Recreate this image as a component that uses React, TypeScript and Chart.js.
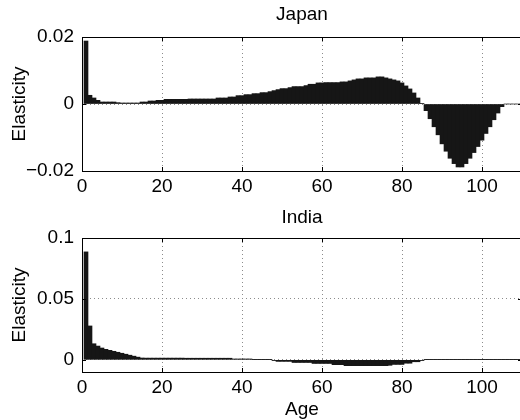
import React, { useEffect, useRef } from "react";
import { Chart, registerables } from "chart.js";

Chart.register(...registerables);

const FONT = "'Liberation Sans', Arial, Helvetica, sans-serif";

const AGES = [
  1, 2, 3, 4, 5, 6, 7, 8, 9, 10,
  11, 12, 13, 14, 15, 16, 17, 18, 19, 20,
  21, 22, 23, 24, 25, 26, 27, 28, 29, 30,
  31, 32, 33, 34, 35, 36, 37, 38, 39, 40,
  41, 42, 43, 44, 45, 46, 47, 48, 49, 50,
  51, 52, 53, 54, 55, 56, 57, 58, 59, 60,
  61, 62, 63, 64, 65, 66, 67, 68, 69, 70,
  71, 72, 73, 74, 75, 76, 77, 78, 79, 80,
  81, 82, 83, 84, 85, 86, 87, 88, 89, 90,
  91, 92, 93, 94, 95, 96, 97, 98, 99, 100,
  101, 102, 103, 104, 105, 106, 107, 108, 109, 110,
];

const JAPAN = [
  0.0188, 0.0026, 0.0018, 0.0011, 0.0006, 0.0006, 0.0006, 0.0006, 0.0004, 0.0003,
  0.0003, 0.0003, 0.0003, 0.0003, 0.0006, 0.0006, 0.0009, 0.0009, 0.0011, 0.0011,
  0.0014, 0.0014, 0.0014, 0.0014, 0.0014, 0.0014, 0.0015, 0.0015, 0.0015, 0.0015,
  0.0015, 0.0015, 0.0015, 0.0018, 0.0018, 0.0018, 0.0021, 0.0021, 0.0025, 0.0025,
  0.0028, 0.0028, 0.0031, 0.0031, 0.0034, 0.0034, 0.0037, 0.004, 0.0043, 0.0046,
  0.0046, 0.0049, 0.0052, 0.0052, 0.0052, 0.0055, 0.0059, 0.0059, 0.0063, 0.0063,
  0.0064, 0.0064, 0.0064, 0.0064, 0.0066, 0.0066, 0.0069, 0.0072, 0.0075, 0.0075,
  0.0078, 0.0078, 0.0078, 0.0081, 0.0081, 0.0078, 0.0075, 0.0072, 0.0069, 0.0063,
  0.0054, 0.0045, 0.0033, 0.0018, 0.0001, -0.002, -0.0044, -0.0068, -0.0092, -0.0119,
  -0.0141, -0.0162, -0.0178, -0.0188, -0.0188, -0.0178, -0.0162, -0.0145, -0.0127, -0.0108,
  -0.0088, -0.0068, -0.0047, -0.0027, -0.0008, 0, 0, 0, 0, 0,
];

const INDIA = [
  0.0886, 0.0278, 0.0132, 0.0113, 0.0097, 0.0086, 0.0078, 0.007, 0.0062, 0.0054,
  0.0046, 0.0038, 0.003, 0.0022, 0.0015, 0.0014, 0.0014, 0.0014, 0.0014, 0.0014,
  0.0014, 0.0014, 0.0014, 0.0014, 0.0014, 0.0013, 0.0013, 0.0013, 0.0013, 0.0013,
  0.0013, 0.0013, 0.0013, 0.0013, 0.0013, 0.0013, 0.0013, 0.0007, 0.0007, 0.0007,
  0.0007, 0.0007, 0.0002, 0.0002, 0.0002, 0.0002, 0.0002, -0.0006, -0.0013, -0.0013,
  -0.0013, -0.0013, -0.0022, -0.0022, -0.0022, -0.0022, -0.0022, -0.003, -0.003, -0.003,
  -0.003, -0.003, -0.004, -0.004, -0.004, -0.0048, -0.0048, -0.0048, -0.0048, -0.0048,
  -0.0048, -0.0048, -0.0048, -0.0048, -0.0048, -0.0048, -0.0045, -0.0038, -0.0038, -0.0038,
  -0.0028, -0.0028, -0.0016, -0.0016, -0.0006, 0.0002, 0.0002, 0.0002, 0.0002, 0.0002,
  0.0002, 0.0002, 0.0002, 0.0002, 0.0002, 0.0002, 0.0002, 0.0002, 0.0002, 0.0002,
  0.0002, 0.0002, 0.0002, 0.0002, 0.0002, 0.0002, 0.0002, 0.0002, 0.0002, 0.0002,
];

const X_TICKS = [0, 20, 40, 60, 80, 100];
const JAPAN_Y_TICKS = [-0.02, 0, 0.02];
const JAPAN_Y_LABELS = ["\u22120.02", "0", "0.02"];
const INDIA_Y_TICKS = [0, 0.05, 0.1];
const INDIA_Y_LABELS = ["0", "0.05", "0.1"];

const BAR_COLOR = "#161616";
const GRID_COLOR = "#8c8c8c";

type PanelCfg = {
  title: string;
  xLabel: string;
  values: number[];
  yTicks: number[];
  yLabels: string[];
  yMin: number;
  yMax: number;
  topPad: number;
  xAxisHeight: number;
  titleGap: number;
};

function framePlugin(cfg: PanelCfg) {
  return {
    id: "matlabFrame",
    afterDraw(chart: any) {
      const { ctx, chartArea: a, scales } = chart;
      const xs = scales.x;
      const ys = scales.y;
      ctx.save();
      ctx.strokeStyle = "#000";
      ctx.lineWidth = 1;
      ctx.setLineDash([]);
      ctx.strokeRect(
        Math.round(a.left) + 0.5,
        Math.round(a.top) + 0.5,
        Math.round(a.right - a.left),
        Math.round(a.bottom - a.top)
      );
      ctx.beginPath();
      for (const v of X_TICKS) {
        const px = Math.round(xs.getPixelForValue(v)) + 0.5;
        ctx.moveTo(px, a.bottom);
        ctx.lineTo(px, a.bottom - 4);
        ctx.moveTo(px, a.top);
        ctx.lineTo(px, a.top + 4);
      }
      for (const v of cfg.yTicks) {
        const py = Math.round(ys.getPixelForValue(v)) + 0.5;
        ctx.moveTo(a.left, py);
        ctx.lineTo(a.left + 4, py);
        ctx.moveTo(a.right, py);
        ctx.lineTo(a.right - 4, py);
      }
      ctx.stroke();

      ctx.fillStyle = "#000";
      ctx.font = `19px ${FONT}`;
      ctx.textAlign = "center";
      ctx.textBaseline = "middle";
      const cx = (a.left + a.right) / 2;
      ctx.fillText(cfg.title, cx, a.top - cfg.titleGap);
      if (cfg.xLabel) ctx.fillText(cfg.xLabel, cx, a.bottom + 38);
      ctx.translate(20, (a.top + a.bottom) / 2);
      ctx.rotate(-Math.PI / 2);
      ctx.fillText("Elasticity", 0, 0);
      ctx.restore();
    },
  };
}

function buildChart(canvas: HTMLCanvasElement, cfg: PanelCfg) {
  return new Chart(canvas, {
    type: "bar",
    data: {
      datasets: [
        {
          data: AGES.map((a, i) => ({ x: a, y: cfg.values[i] })),
          backgroundColor: BAR_COLOR,
          borderWidth: 0,
          barPercentage: 1,
          categoryPercentage: 1,
        } as any,
      ],
    },
    options: {
      animation: false,
      responsive: false,
      devicePixelRatio: 1,
      layout: { padding: { left: 0, top: cfg.topPad, right: 82, bottom: 0 } },
      plugins: {
        legend: { display: false },
        title: { display: false },
        tooltip: { enabled: false },
      },
      scales: {
        x: {
          type: "linear",
          min: 0,
          max: 110,
          offset: false,
          afterBuildTicks: (s: any) => {
            s.ticks = X_TICKS.map((v) => ({ value: v }));
          },
          afterFit: (s: any) => {
            s.height = cfg.xAxisHeight;
          },
          grid: { color: GRID_COLOR, drawTicks: false, lineWidth: 1, offset: false },
          border: { display: false, dash: [1, 3] },
          ticks: {
            padding: 4,
            color: "#000",
            maxRotation: 0,
            autoSkip: false,
            font: { family: FONT, size: 19 },
            callback: (v: any) => String(v),
          },
        },
        y: {
          type: "linear",
          min: cfg.yMin,
          max: cfg.yMax,
          afterBuildTicks: (s: any) => {
            s.ticks = cfg.yTicks.map((v) => ({ value: v }));
          },
          afterFit: (s: any) => {
            s.width = 82;
          },
          grid: { color: GRID_COLOR, drawTicks: false, lineWidth: 1 },
          border: { display: false, dash: [1, 3] },
          ticks: {
            padding: 8,
            color: "#000",
            font: { family: FONT, size: 19 },
            callback: (v: any) => {
              const idx = cfg.yTicks.findIndex((t) => Math.abs(t - Number(v)) < 1e-9);
              return idx >= 0 ? cfg.yLabels[idx] : "";
            },
          },
        },
      } as any,
    },
    plugins: [framePlugin(cfg) as any],
  });
}

const JAPAN_CFG: PanelCfg = {
  title: "Japan",
  xLabel: "",
  values: JAPAN,
  yTicks: JAPAN_Y_TICKS,
  yLabels: JAPAN_Y_LABELS,
  yMin: -0.02,
  yMax: 0.02,
  topPad: 37,
  xAxisHeight: 34,
  titleGap: 22,
};

const INDIA_CFG: PanelCfg = {
  title: "India",
  xLabel: "Age",
  values: INDIA,
  yTicks: INDIA_Y_TICKS,
  yLabels: INDIA_Y_LABELS,
  yMin: -0.01,
  yMax: 0.1,
  topPad: 38,
  xAxisHeight: 48,
  titleGap: 20,
};

export default function App() {
  const topRef = useRef<HTMLCanvasElement | null>(null);
  const botRef = useRef<HTMLCanvasElement | null>(null);

  useEffect(() => {
    const c1 = topRef.current ? buildChart(topRef.current, JAPAN_CFG) : null;
    const c2 = botRef.current ? buildChart(botRef.current, INDIA_CFG) : null;
    return () => {
      c1?.destroy();
      c2?.destroy();
    };
  }, []);

  return (
    <div
      style={{
        position: "absolute",
        left: 0,
        top: 0,
        width: 520,
        height: 420,
        overflow: "hidden",
        background: "#fff",
      }}
    >
      <canvas
        ref={topRef}
        width={604}
        height={205}
        style={{ position: "absolute", left: 0, top: 0, width: 604, height: 205 }}
      />
      <canvas
        ref={botRef}
        width={604}
        height={220}
        style={{ position: "absolute", left: 0, top: 200, width: 604, height: 220 }}
      />
    </div>
  );
}
